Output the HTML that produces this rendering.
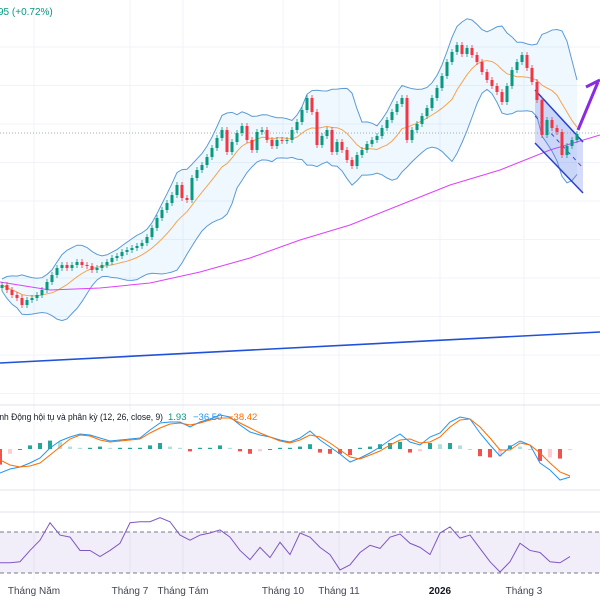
<!DOCTYPE html>
<html><head><meta charset="utf-8">
<style>
html,body{margin:0;padding:0;background:#fff;}
svg{display:block;font-family:"Liberation Sans",sans-serif;}
</style></head>
<body>
<svg id="chart" width="600" height="600" viewBox="0 0 600 600" xmlns="http://www.w3.org/2000/svg">
<g id="grid"></g>
<g id="main"></g>
<g id="macd"></g>
<g id="rsi"></g>
<text x="-2" y="15" font-size="10" fill="#089981">95 (+0.72%)</text>
<text x="-3" y="420" font-size="9.5" fill="#131722" textLength="166" lengthAdjust="spacingAndGlyphs">ính Động hội tụ và phân kỳ (12, 26, close, 9)</text>
<text x="168" y="420" font-size="9.5" fill="#089981">1.93</text>
<text x="193" y="420" font-size="9.5" fill="#2196f3">−36.50</text>
<text x="228" y="420" font-size="9.5" fill="#ff6d00">−38.42</text>
<g id="xaxis"></g>
</svg>
<script>
const closes=[1215,1210,1205,1202,1195,1200,1202,1205,1210,1218,1225,1232,1235,1232,1235,1238,1235,1234,1230,1232,1235,1238,1242,1244,1248,1250,1252,1254,1257,1263,1272,1282,1290,1297,1305,1315,1302,1300,1322,1330,1335,1343,1352,1362,1370,1348,1358,1367,1374,1360,1350,1368,1370,1360,1354,1360,1359,1360,1370,1378,1390,1402,1388,1355,1364,1370,1348,1358,1350,1340,1334,1345,1350,1356,1360,1364,1372,1380,1388,1396,1402,1360,1370,1376,1384,1392,1402,1412,1424,1438,1448,1455,1446,1452,1445,1438,1428,1420,1414,1408,1398,1414,1430,1438,1445,1432,1418,1400,1365,1380,1372,1368,1345,1354,1360,1366];
const ma200=[1218,1210,1212,1217,1228,1242,1260,1275,1295,1315,1330,1350,1365];
const macdLine=[-24,-20,-18,-14,-9,1,8,12,15,14,11,8,9,10,11,19,26,27,27,22,27,30,34,32,24,17,14,12,9,7,11,18,9,2,-5,-13,-9,-4,2,9,15,7,4,12,16,27,32,30,16,4,-7,2,8,4,-14,-21,-31,-28];
const signalLine=[-11,-16,-18,-17,-14,-6,2,10,14,13,9,7,8,9,10,16,21,25,26,24,26,29,31,31,26,21,16,12,8,6,9,14,12,6,-1,-8,-10,-6,-2,4,9,10,6,7,12,22,29,30,22,11,-1,-1,6,4,-4,-14,-23,-27];
const rsiVals=[40,40,41,52,62,79,67,65,52,52,46,52,59,79,80,80,84,80,67,62,67,69,72,65,52,43,55,45,60,48,69,65,55,48,33,38,50,57,54,65,68,59,55,48,69,75,64,67,54,41,31,41,59,52,50,41,40,46];
const monthLabels=["Tháng Năm","Tháng 7","Tháng Tám","Tháng 10","Tháng 11","2026","Tháng 3"];
const monthIdx=[6.4,25.6,36.2,56.2,67.4,87.6,104.4];

const NS="http://www.w3.org/2000/svg";
function mk(tag,attrs,parent){const e=document.createElementNS(NS,tag);for(const k in attrs)e.setAttribute(k,attrs[k]);parent.appendChild(e);return e;}
const xC=i=>2+i*5;
const yP=p=>1500-p;
const x10=i=>i*10;
const yM=v=>449-v;
const yR=v=>573-(v-30)*41/40;
const xMA=i=>i*50;

const grid=document.getElementById('grid');
for(let k=0;k<10;k++){const l=mk('line',{x1:0,x2:600,y1:47+k*38.5,y2:47+k*38.5,stroke:'#f0f3fa'},grid);

}
monthIdx.forEach(m=>{const l=mk('line',{x1:xC(m),x2:xC(m),y1:0,y2:580,stroke:'#f0f3fa'},grid);

});
[[405],[490],[512]].forEach(a=>{const l=mk('line',{x1:0,x2:600,y1:a[0],y2:a[0],stroke:'#e0e3eb'},grid);

});

const main=document.getElementById('main');
const N=10,up=[],lo=[],ma=[];
closes.forEach((c,i)=>{const s=closes.slice(Math.max(0,i-N+1),i+1);const m=s.reduce((a,b)=>a+b,0)/s.length;
const sd=Math.sqrt(s.reduce((a,b)=>a+(b-m)*(b-m),0)/s.length);ma.push(m);up.push(m+2*sd+6);lo.push(m-2*sd-6);});
let ptsU=up.map((v,i)=>xC(i)+','+yP(v)),ptsL=lo.map((v,i)=>xC(i)+','+yP(v));
const bbf=mk('polygon',{points:ptsU.concat(ptsL.slice().reverse()).join(' '),fill:'rgba(33,150,243,0.07)'},main);


const bu=mk('polyline',{points:ptsU.join(' '),fill:'none',stroke:'#5b9bd5','stroke-width':1},main);


const bl=mk('polyline',{points:ptsL.join(' '),fill:'none',stroke:'#5b9bd5','stroke-width':1},main);


const mal=mk('polyline',{points:ma.map((v,i)=>xC(i)+','+yP(v)).join(' '),fill:'none',stroke:'#f7a350','stroke-width':1},main);


const m200=mk('polyline',{points:ma200.map((v,i)=>xMA(i)+','+yP(v)).join(' '),fill:'none',stroke:'#e040fb','stroke-width':1},main);


const dl=mk('line',{x1:0,x2:600,y1:133,y2:133,stroke:'#9db0a8','stroke-dasharray':'1 2'},main);


const tl=mk('line',{x1:0,y1:363,x2:600,y2:332,stroke:'#2151d8','stroke-width':1.6},main);


const ch=mk('polygon',{points:'535,90 583,142 583,193 535,143',fill:'rgba(90,110,230,0.25)'},main);


[[535,90,583,142],[535,143,583,193]].forEach(s=>{const l=mk('line',{x1:s[0],y1:s[1],x2:s[2],y2:s[3],stroke:'#2a3fd0','stroke-width':1.5},main);

});
const cm=mk('line',{x1:535,y1:116,x2:583,y2:168,stroke:'#3a4fd8','stroke-dasharray':'4 4'},main);


closes.forEach((c,i)=>{const o=i?closes[i-1]:c-3;const g=document.createElementNS(NS,'g');main.appendChild(g);


const col=c>=o?'#089981':'#f23645';const hi=Math.max(o,c)+3,lw=Math.min(o,c)-3;
mk('line',{x1:xC(i),x2:xC(i),y1:yP(hi),y2:yP(lw),stroke:col,'stroke-width':0.8},g);
mk('rect',{x:xC(i)-1.5,y:yP(Math.max(o,c)),width:3,height:Math.max(1,Math.abs(c-o)),fill:col},g);});
const ar=mk('polyline',{points:'578,130 598,82',fill:'none',stroke:'#8a2be2','stroke-width':3},main);


const ah=mk('polyline',{points:'586,87 600,80',fill:'none',stroke:'#8a2be2','stroke-width':3},main);



const mg=document.getElementById('macd');
macdLine.forEach((v,i)=>{const h=v-signalLine[i];const prev=i?macdLine[i-1]-signalLine[i-1]:h;
const col=h>=0?(h>=prev?'#26a69a':'#b2dfdb'):(h<=prev?'#ef5350':'#ffcdd2');
const r=mk('rect',{x:x10(i)-2,y:Math.min(yM(0),yM(h*1.2)),width:4,height:Math.max(1,Math.abs(h*1.2)),fill:col},mg);

});
const ml=mk('polyline',{points:macdLine.map((v,i)=>x10(i)+','+yM(v)).join(' '),fill:'none',stroke:'#2196f3','stroke-width':1},mg);


const sl=mk('polyline',{points:signalLine.map((v,i)=>x10(i)+','+yM(v)).join(' '),fill:'none',stroke:'#ff6d00','stroke-width':1},mg);



const rg=document.getElementById('rsi');
const rb=mk('rect',{x:0,y:yR(70),width:600,height:yR(30)-yR(70),fill:'rgba(126,87,194,0.1)'},rg);


[70,30].forEach(v=>{const l=mk('line',{x1:0,x2:600,y1:yR(v),y2:yR(v),stroke:'#787b86','stroke-dasharray':'4 3'},rg);

});
const rl=mk('polyline',{points:rsiVals.map((v,i)=>x10(i)+','+yR(v)).join(' '),fill:'none',stroke:'#7e57c2','stroke-width':1},rg);



const xa=document.getElementById('xaxis');
monthLabels.forEach((t,i)=>{const e=mk('text',{x:xC(monthIdx[i]),y:594,'font-size':10,'text-anchor':'middle',fill:t==='2026'?'#131722':'#434651','font-weight':t==='2026'?'bold':'normal'},xa);
e.textContent=t;

});
</script>
</body></html>
